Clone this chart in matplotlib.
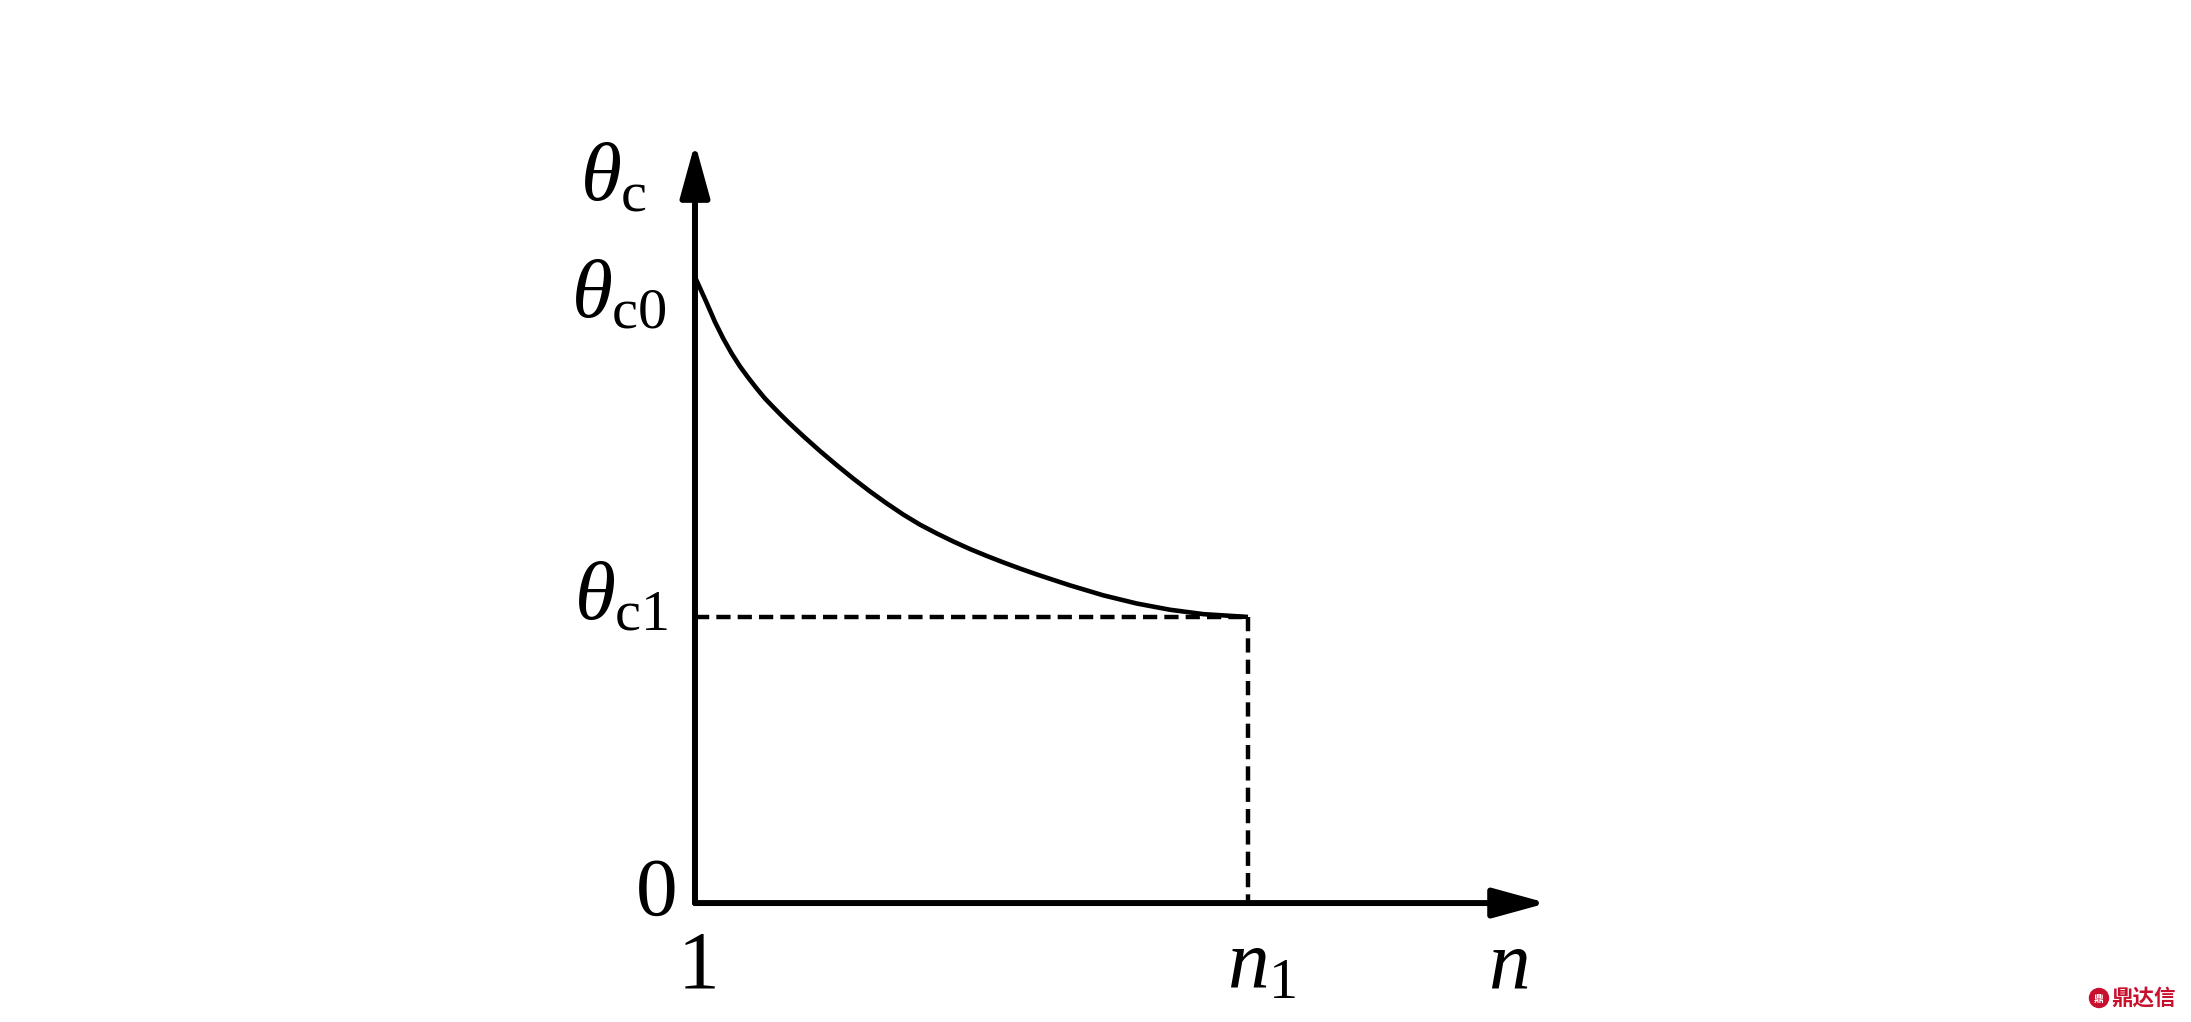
import matplotlib
matplotlib.use('Agg')
import matplotlib.pyplot as plt
from matplotlib.patches import Ellipse

plt.rcParams['mathtext.fontset'] = 'custom'
plt.rcParams['mathtext.rm'] = 'Liberation Serif'
plt.rcParams['mathtext.it'] = 'Liberation Serif:italic'
plt.rcParams['font.family'] = ['Liberation Serif', 'DejaVu Sans']

# curve theta_c(n), normalised so theta_c0 = 1, n runs 1 .. n1 = 5
n_vals = [1.0, 1.084, 1.145, 1.205, 1.265, 1.326, 1.386, 1.446, 1.506, 1.567,
          1.627, 1.687, 1.784, 1.904, 2.025, 2.145, 2.266, 2.386, 2.507, 2.627,
          2.748, 2.869, 2.989, 3.110, 3.230, 3.351, 3.471, 3.712, 3.954, 4.195,
          4.436, 4.677, 5.0]
theta_vals = [1.0, 0.959, 0.928, 0.9015, 0.878, 0.857, 0.839, 0.822, 0.806, 0.792,
              0.7785, 0.7656, 0.7457, 0.7221, 0.6995, 0.678, 0.6575, 0.6385, 0.6205, 0.6045,
              0.5905, 0.5775, 0.5655, 0.5545, 0.5442, 0.5343, 0.525, 0.5075, 0.4915, 0.4785,
              0.4685, 0.4615, 0.457]
n1 = 5.0
theta_c0 = 1.0
theta_c1 = 0.457
x_end = 7.163   # end of n axis arrow
y_end = 1.214   # end of theta axis arrow

y_labels = [r'$\theta_{\mathrm{c}}$', r'$\theta_{\mathrm{c0}}$', r'$\theta_{\mathrm{c1}}$', '0']
x_labels = ['1', r'$n_{\mathrm{1}}$', r'$n$']

fig = plt.figure(figsize=(21.91, 10.22), dpi=100)
ax = fig.add_axes([0, 0, 1, 1])
ax.set_xlim(-4.027, 11.821)
ax.set_ylim(-0.190, 1.4425)
ax.axis('off')

# axes with arrows
arrow = dict(arrowstyle='-|>,head_length=0.4,head_width=0.11', mutation_scale=82,
             lw=4.3, color='black', shrinkA=0, shrinkB=0)
ax.annotate('', xy=(1, y_end), xytext=(1, 0), arrowprops=arrow)
ax.annotate('', xy=(x_end, 0), xytext=(1, 0), arrowprops=arrow)

# curve
ax.plot(n_vals, theta_vals, color='black', lw=3.3, solid_capstyle='butt',
        solid_joinstyle='round')

# dashed guides
ax.plot([1, n1], [theta_c1, theta_c1], color='black', lw=3.2, dashes=(3.2, 1.6))
ax.plot([n1, n1], [theta_c1, 0], color='black', lw=3.2, dashes=(3.2, 1.6))

fs = 60
ykw = dict(textcoords='offset pixels', ha='right', va='baseline', fontsize=fs)
ax.annotate(y_labels[0], xy=(1, y_end), xytext=(-48, -57), **ykw)
ax.annotate(y_labels[1], xy=(1, theta_c0), xytext=(-28, -40), **ykw)
ax.annotate(y_labels[2], xy=(1, theta_c1), xytext=(-27, -2), **ykw)
ax.annotate(y_labels[3], xy=(1, 0), xytext=(-17, -12), **ykw)

xkw = dict(textcoords='offset pixels', va='baseline', fontsize=fs)
ax.annotate(x_labels[0], xy=(1, 0), xytext=(4, -84), ha='center', **xkw)
ax.annotate(x_labels[1], xy=(n1, 0), xytext=(-21, -84), ha='left', **xkw)
ax.annotate(x_labels[2], xy=(x_end, 0), xytext=(-39, -84), ha='center', **xkw)

# watermark
red = '#c8102e'
fig.add_artist(Ellipse((2099 / 2191, 24 / 1022), 19 / 2191, 19 / 1022,
                       transform=fig.transFigure, color=red))
fig.text(2099 / 2191, 23 / 1022, '鼎', color='white', fontsize=7, fontweight='bold',
         family=['Noto Sans CJK SC', 'DejaVu Sans'], ha='center', va='center')
fig.text(2111 / 2191, 24 / 1022, '鼎达信', color=red, fontsize=15.5, fontweight='bold',
         family=['Noto Sans CJK SC', 'DejaVu Sans'], ha='left', va='center')

fig.savefig('out.png', dpi=100)
